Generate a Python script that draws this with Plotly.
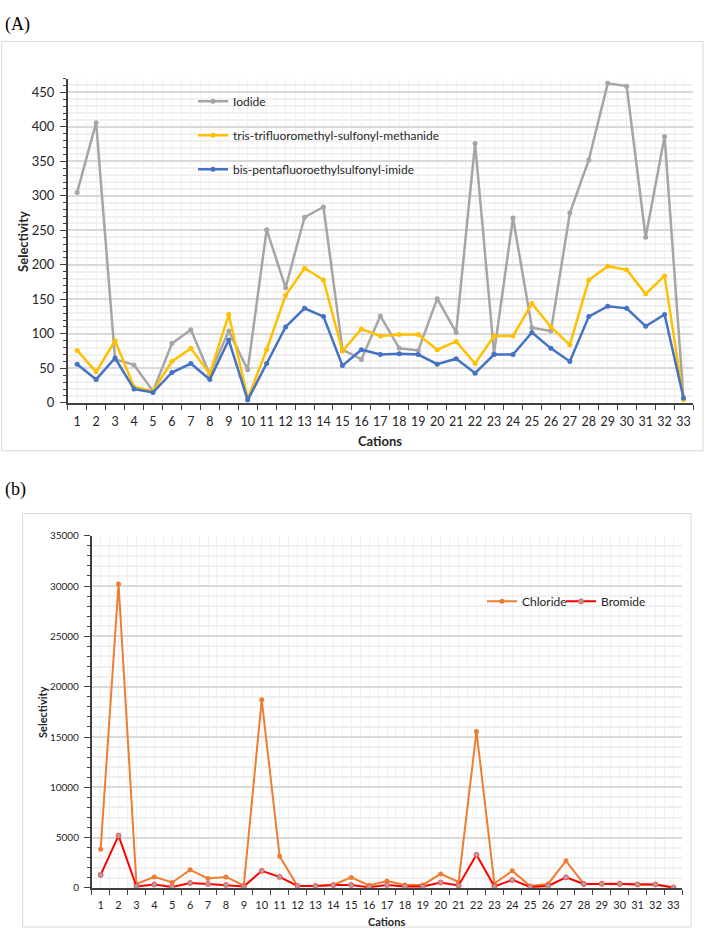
import plotly.graph_objects as go

W, H = 705, 938

cations = list(range(1, 34))
cation_labels = [str(c) for c in cations]

iodide = [305, 406, 63, 55, 17, 86, 106, 41, 104, 48, 251, 167, 269, 284, 77, 63, 126, 79, 76, 151,
          102, 376, 72, 268, 109, 104, 275, 352, 463, 459, 240, 386, 6]
tris = [76, 45, 90, 23, 17, 60, 79, 42, 128, 6, 77, 156, 195, 178, 75, 107, 97, 99, 99, 77,
        89, 57, 97, 97, 144, 110, 84, 178, 198, 193, 158, 184, 5]
bis = [56, 34, 65, 20, 15, 44, 57, 34, 91, 4, 57, 110, 137, 125, 54, 77, 70, 71, 70, 56,
       64, 43, 70, 70, 102, 79, 60, 125, 140, 137, 111, 128, 7]

chloride = [3850, 30200, 400, 1100, 550, 1800, 950, 1100, 250, 18700, 3150, 200, 200, 300, 1050, 260,
            700, 300, 300, 1400, 600, 15550, 450, 1700, 200, 400, 2700, 400, 400, 400, 350, 350, 50]
bromide = [1300, 5200, 150, 350, 100, 500, 400, 300, 150, 1700, 1100, 200, 200, 290, 300, 80,
           300, 150, 150, 550, 250, 3300, 150, 800, 100, 200, 1050, 400, 420, 420, 350, 350, 50]

FONT = "Lato"

def px_x(v):
    return v / W

def px_y(v):
    return 1 - v / H

fig = go.Figure()

# Panel A
fig.add_trace(go.Scatter(x=cations, y=iodide, name="Iodide", mode="lines+markers",
                         line=dict(color="#a5a5a5", width=2.5), marker=dict(size=5, color="#a5a5a5"),
                         xaxis="x", yaxis="y", legend="legend", legendgroup="a1"))
fig.add_trace(go.Scatter(x=cations, y=tris, name="tris-trifluoromethyl-sulfonyl-methanide", mode="lines+markers",
                         line=dict(color="#ffc000", width=2.5), marker=dict(size=5, color="#ffc000"),
                         xaxis="x", yaxis="y", legend="legend", legendgroup="a2"))
fig.add_trace(go.Scatter(x=cations, y=bis, name="bis-pentafluoroethylsulfonyl-imide", mode="lines+markers",
                         line=dict(color="#4472c4", width=2.5), marker=dict(size=5, color="#4472c4"),
                         xaxis="x", yaxis="y", legend="legend", legendgroup="a3"))

# Panel B
fig.add_trace(go.Scatter(x=cations, y=chloride, name="Chloride", mode="lines+markers",
                         line=dict(color="#ed7d31", width=2), marker=dict(size=5, color="#ed7d31"),
                         xaxis="x2", yaxis="y2", legend="legend2"))
fig.add_trace(go.Scatter(x=cations, y=bromide, name="Bromide", mode="lines+markers",
                         line=dict(color="#ff0000", width=2),
                         marker=dict(size=5, color="#a5a5a5", line=dict(color="#ff5050", width=1)),
                         xaxis="x2", yaxis="y2", legend="legend3"))

axis_col = "#404040"
grid_major = "#d9d9d9"
grid_minor = "#f0f0f0"

def xaxis_cfg(domain, anchor, size, standoff):
    return dict(domain=domain, anchor=anchor, range=[0.5, 33.5],
                tickmode="array", tickvals=cations, ticktext=cation_labels,
                ticks="", showgrid=True, gridcolor=grid_minor, gridwidth=1,
                showline=True, linecolor=axis_col, linewidth=1.5, zeroline=False,
                ticklabelstandoff=standoff,
                tickfont=dict(family=FONT, size=size, color="#262626"),
                minor=dict(tickmode="linear", tick0=0.5, dtick=1, ticks="outside", ticklen=5,
                           tickcolor=axis_col, tickwidth=1, showgrid=True, gridcolor=grid_minor),
                fixedrange=True)

def yaxis_cfg(domain, anchor, rng, dtick, mdtick, size, standoff):
    return dict(domain=domain, anchor=anchor, range=rng, dtick=dtick, tick0=0,
                tickformat="d",
                ticks="outside", ticklen=6, tickcolor=axis_col, tickwidth=1,
                showgrid=True, gridcolor=grid_major, gridwidth=1.5,
                showline=True, linecolor=axis_col, linewidth=1.5, zeroline=False,
                ticklabelstandoff=standoff,
                tickfont=dict(family=FONT, size=size, color="#262626"),
                minor=dict(dtick=mdtick, tick0=0, ticks="outside", ticklen=3, tickcolor=axis_col,
                           showgrid=True, gridcolor=grid_minor),
                fixedrange=True)

leg_font_b = dict(family=FONT, size=12, color="#262626")

fig.update_layout(
    width=W, height=H,
    margin=dict(l=0, r=0, t=0, b=0),
    paper_bgcolor="white", plot_bgcolor="white",
    xaxis=xaxis_cfg([px_x(67.7), px_x(693)], "y", 12.5, 6),
    yaxis=yaxis_cfg([px_y(402.3), px_y(72.7)], "x", [0, 470], 50, 10, 13, 3),
    xaxis2=xaxis_cfg([px_x(91.7), px_x(682.3)], "y2", 11, 6),
    yaxis2=yaxis_cfg([px_y(895.3), px_y(537.3)], "x2", [0, 35000], 5000, 1000, 10, 3),
    legend=dict(x=px_x(193), y=px_y(81), xanchor="left", yanchor="top", orientation="v",
                bgcolor="rgba(0,0,0,0)", font=dict(family=FONT, size=12, color="#262626"),
                tracegroupgap=15, traceorder="grouped"),
    legend2=dict(x=px_x(482), y=px_y(604), xanchor="left", yanchor="middle", orientation="v",
                 bgcolor="rgba(0,0,0,0)", font=leg_font_b),
    legend3=dict(x=px_x(561), y=px_y(604), xanchor="left", yanchor="middle", orientation="v",
                 bgcolor="rgba(0,0,0,0)", font=leg_font_b),
    showlegend=True,
)

shapes = [
    dict(type="rect", xref="paper", yref="paper", x0=px_x(1.7), x1=px_x(703), y0=px_y(451), y1=px_y(35),
         line=dict(color="#d9d9d9", width=1), fillcolor="rgba(0,0,0,0)", layer="below"),
    dict(type="rect", xref="paper", yref="paper", x0=px_x(22.7), x1=px_x(691), y0=px_y(935), y1=px_y(514.7),
         line=dict(color="#d9d9d9", width=1), fillcolor="rgba(0,0,0,0)", layer="below"),
]
fig.update_layout(shapes=shapes)

annotations = [
    dict(text="(A)", x=px_x(3), y=px_y(18), xref="paper", yref="paper", xanchor="left", yanchor="middle",
         showarrow=False, font=dict(family="Liberation Serif", size=18, color="black")),
    dict(text="(b)", x=px_x(3), y=px_y(490), xref="paper", yref="paper", xanchor="left", yanchor="middle",
         showarrow=False, font=dict(family="Liberation Serif", size=18, color="black")),
    dict(text="<b>Selectivity</b>", x=px_x(22.7), y=px_y(238), xref="paper", yref="paper",
         xanchor="center", yanchor="middle", textangle=-90, showarrow=False,
         font=dict(family=FONT, size=13, color="#262626")),
    dict(text="<b>Cations</b>", x=px_x(380), y=px_y(441), xref="paper", yref="paper",
         xanchor="center", yanchor="middle", showarrow=False,
         font=dict(family=FONT, size=13, color="#262626")),
    dict(text="<b>Selectivity</b>", x=px_x(42.7), y=px_y(716.7), xref="paper", yref="paper",
         xanchor="center", yanchor="middle", textangle=-90, showarrow=False,
         font=dict(family=FONT, size=11, color="#262626")),
    dict(text="<b>Cations</b>", x=px_x(386.7), y=px_y(937), xref="paper", yref="paper",
         xanchor="center", yanchor="bottom", showarrow=False, borderpad=0,
         font=dict(family=FONT, size=11, color="#262626")),
]
fig.update_layout(annotations=annotations)

fig.write_html("out.html")
